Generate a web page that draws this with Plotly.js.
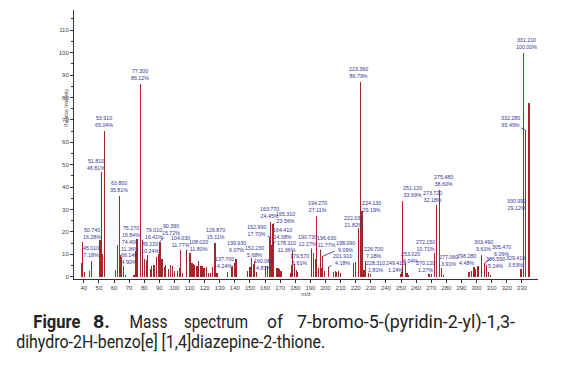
<!DOCTYPE html>
<html>
<head>
<meta charset="utf-8">
<script src="https://cdn.plot.ly/plotly-3.0.1.min.js"></script>
<style>
html,body{margin:0;padding:0;background:#fff;}
#chart{width:586px;height:372px;}
</style>
</head>
<body>
<div id="chart"></div>
<script>
// ---- data ----
const mz = [38.5, 39.3, 40.2, 44.0, 45.01, 50.74, 51.81, 52.6, 53.91, 61.0, 62.2, 63.8, 64.5, 65.2, 66.14, 67.8,
  73.2, 74.4, 75.27, 77.3, 79.01, 80.3, 81.3, 82.3, 84.0, 85.0, 86.4, 88.0, 89.22, 90.39, 91.7, 93.3, 94.3, 96.0,
  97.6, 98.7, 99.8, 102.0, 103.3, 104.03, 105.2, 108.02, 110.3, 111.6, 112.5, 113.3, 115.0, 116.0, 117.0, 118.2,
  119.6, 121.0, 122.6, 123.7, 125.3, 126.87, 128.2, 135.2, 137.7, 138.5, 139.93, 140.8, 148.5, 150.0, 151.2,
  152.23, 153.1, 154.5, 160.08, 161.5, 162.99, 163.77, 164.41, 165.31, 167.5, 168.6, 169.7, 170.6, 176.7, 177.8,
  178.31, 179.57, 180.8, 181.7, 190.73, 192.1, 193.2, 194.27, 195.2, 196.63, 197.3, 198.09, 199.2, 201.91, 205.3,
  206.4, 207.5, 208.5, 210.0, 218.6, 219.7, 222.03, 223.36, 224.13, 225.5, 226.7, 228.31, 230.0, 249.41, 250.2,
  251.12, 253.02, 254.0, 255.0, 268.5, 270.12, 272.15, 273.72, 275.48, 277.06, 278.0, 295.0, 296.9, 298.28, 299.5,
  301.0, 303.49, 305.47, 306.59, 308.0, 309.0, 329.41, 330.99, 331.21, 332.28, 334.8];
const intensity = [6, 15.5, 2, 2.4, 7.18, 16.28, 46.81, 10, 65.04, 3, 14.3, 35.81, 9.5, 9, 4.9, 1,
  1, 11.36, 16.84, 86.12, 16.41, 8, 7.6, 9.6, 3.4, 4.8, 5.4, 9, 10.24, 15.72, 8, 4.2, 5.3, 3.4,
  5.3, 5, 2.4, 2.4, 3.9, 11.77, 1.5, 11.8, 10.5, 6, 5.5, 5.3, 5, 7, 4.9, 5,
  4, 4.3, 1.8, 1.8, 4.3, 15.11, 1.5, 2, 4.24, 5, 6.07, 8, 2.5, 4.5, 8.4,
  5.68, 7, 2, 4.87, 5, 17.7, 24.45, 14.08, 23.56, 4, 4, 3.6, 2.4, 1.6, 5.4,
  11.36, 5.61, 2.8, 2, 12.27, 10.6, 8, 27.11, 4, 11.77, 4, 9.09, 2.4, 4.18, 2,
  2.7, 2, 2.5, 1.5, 6, 6.5, 21.82, 86.79, 29.19, 3, 7.18, 1.81, 1.2, 1.24, 2,
  33.69, 6.04, 1.5, 1, 1.2, 1.27, 10.71, 32.18, 38.6, 3.91, 1, 2, 2.5, 4.48, 3.5,
  5, 9.61, 6.06, 5.24, 2, 1, 3.53, 29.12, 100, 65.49, 77.5];
// peaks that carry a label (m/z values, looked up in the arrays above)
const labelledMz = [45.01, 50.74, 51.81, 53.91, 63.8, 66.14, 74.4, 75.27, 77.3, 79.01, 89.22, 90.39, 104.03, 108.02,
  126.87, 137.7, 139.93, 152.23, 160.08, 162.99, 163.77, 164.41, 165.31, 178.31, 179.57, 190.73, 194.27, 196.63,
  198.09, 201.91, 222.03, 223.36, 224.13, 226.7, 228.31, 249.41, 251.12, 253.02, 270.12, 272.15, 273.72, 275.48,
  277.06, 298.28, 303.49, 305.47, 306.59, 329.41, 330.99, 331.21, 332.28];
const yTicks = [0, 10, 20, 30, 40, 50, 60, 70, 80, 90, 100, 110];
const xTicks = [40, 50, 60, 70, 80, 90, 100, 110, 120, 130, 140, 150, 160, 170, 180, 190, 200, 210, 220, 230, 240,
  250, 260, 270, 280, 290, 300, 310, 320, 330];
const captionWords = ["Figure", "8.", "Mass", "spectrum", "of", "7-bromo-5-(pyridin-2-yl)-1,3-"];
const captionLine2 = "dihydro-2H-benzo[e] [1,4]diazepine-2-thione.";
const yTitle = "Relative Intensity";
const xTitle = "m/z";

// ---- layout / style (pixel placement of label boxes relative to their peak) ----
// ['a', xshift, yshift] = label sits above its bar, otherwise [ax, ay] leader offset in px
const labelPlacement = [['a',0,1], [-8,-7], [-6,-7], ['a',-1,1], ['a',-1,1], [6,-7], [-6,-6], [-6,-8], ['a',0,1], [11,-6],
  [-8,-6.5], [11.5,-12], ['a',0,0], [12,-5], ['a',0,1], [-7,-5], ['a',2,8], ['a',1,4], [-2,-1], [-13,-7], ['a',-1,1],
  [11,-12], [12,-6], [-6,-5], [5,-5], [-4,-9], ['a',1,1], [6,-9], [23,-10], [14,-7.5], [-5,-6], ['a',-2,1], [10,-5],
  [8,-8], [7,-6], [-5,-7], ['a',10,1], [5,-6], [-6,-7], [-9,-7], [-4,-8], ['a',4,1], [7,-7], [-7,-7], ['a',2,1],
  [17,-13], [9,-3], [-5,-7], [-7,-7], ['a',3,1], [-15,-8]];
// caption piece extents in px [left, right]
const capBoxes = [[33, 80], [93, 110], [129, 167], [184, 248], [267, 283], [297, 515]];
const capLine2Box = [16, 325];
const capY1 = 322.5, capY2 = 342.5;

const W = 586, H = 372;
const M = {l: 73.5, r: 48, t: 10.4, b: 92.8};
const plotW = W - M.l - M.r, plotH = H - M.t - M.b;
const px2paperX = p => (p - M.l) / plotW;
const px2paperY = p => (H - M.b - p) / plotH;

const barTrace = {
  type: 'bar', x: mz, y: intensity, width: 0.8,
  marker: {color: '#a42628', line: {width: 0}},
  hoverinfo: 'x+y'
};

const labelFont = {family: 'Liberation Sans, Arial, sans-serif', size: 5.3, color: '#34349a'};
const annotations = [];
labelledMz.forEach((m, i) => {
  const k = mz.indexOf(m);
  const v = intensity[k];
  const txt = m.toFixed(3) + '<br>' + v.toFixed(2) + '%';
  const pl = labelPlacement[i];
  if (pl[0] === 'a') {
    annotations.push({x: m, y: v, xref: 'x', yref: 'y', text: txt, showarrow: false,
      xanchor: 'center', yanchor: 'bottom', xshift: pl[1], yshift: pl[2], font: labelFont});
  } else {
    annotations.push({x: m, y: v, xref: 'x', yref: 'y', text: txt, showarrow: true, arrowhead: 0,
      arrowwidth: 0.8, arrowcolor: '#23237e', ax: pl[0], ay: pl[1], standoff: 0, font: labelFont});
  }
});

// y-axis title
annotations.push({xref: 'paper', yref: 'paper', x: px2paperX(60), y: px2paperY(108), text: yTitle,
  textangle: -90, showarrow: false, font: {family: 'Liberation Sans, Arial, sans-serif', size: 5, color: '#555'}});

// caption (justified first line reproduced word by word, condensed to the reference widths)
const capStart = annotations.length;
const capFont = {family: 'Roboto, sans-serif', size: 17.5, color: '#222'};
const capPieces = [];
captionWords.forEach((w, i) => capPieces.push({text: w, box: capBoxes[i], y: capY1, bold: i < 2}));
capPieces.push({text: captionLine2, box: capLine2Box, y: capY2, bold: false});
capPieces.forEach(p => {
  annotations.push({xref: 'paper', yref: 'paper', x: px2paperX((p.box[0] + p.box[1]) / 2), y: px2paperY(p.y),
    xanchor: 'center', yanchor: 'middle', showarrow: false, text: p.text,
    font: Object.assign({}, capFont, {weight: p.bold ? 700 : 400})});
});

const tickFont = {family: 'Liberation Sans, Arial, sans-serif', size: 6, color: '#444'};
const layout = {
  width: W, height: H, margin: M, paper_bgcolor: '#fff', plot_bgcolor: '#fff',
  showlegend: false, bargap: 0,
  xaxis: {range: [33.5, 340.7], tickmode: 'array', tickvals: xTicks, ticktext: xTicks.map(String),
    showgrid: false, zeroline: false, showline: true, linecolor: '#333', linewidth: 1,
    ticks: 'outside', ticklen: 3, tickcolor: '#333', tickfont: tickFont,
    title: {text: xTitle, font: {family: 'Liberation Sans, Arial, sans-serif', size: 6, color: '#444'}, standoff: 0}},
  yaxis: {range: [-1, 119], tickmode: 'array', tickvals: yTicks, ticktext: yTicks.map(String),
    showgrid: false, zeroline: false, showline: true, linecolor: '#333', linewidth: 1,
    ticks: 'outside', ticklen: 3, tickcolor: '#333', tickfont: tickFont,
    minor: {dtick: 5, ticks: 'outside', ticklen: 2, tickcolor: '#333', showgrid: false}},
  annotations: annotations
};

Plotly.newPlot('chart', [barTrace], layout, {staticPlot: true, displayModeBar: false}).then(gd => {
  capPieces.forEach((p, j) => {
    const t = gd.querySelector('.annotation[data-index="' + (capStart + j) + '"] .annotation-text');
    if (t) {
      t.setAttribute('textLength', String(p.box[1] - p.box[0]));
      t.setAttribute('lengthAdjust', 'spacingAndGlyphs');
    }
  });
});
</script>
</body>
</html>
